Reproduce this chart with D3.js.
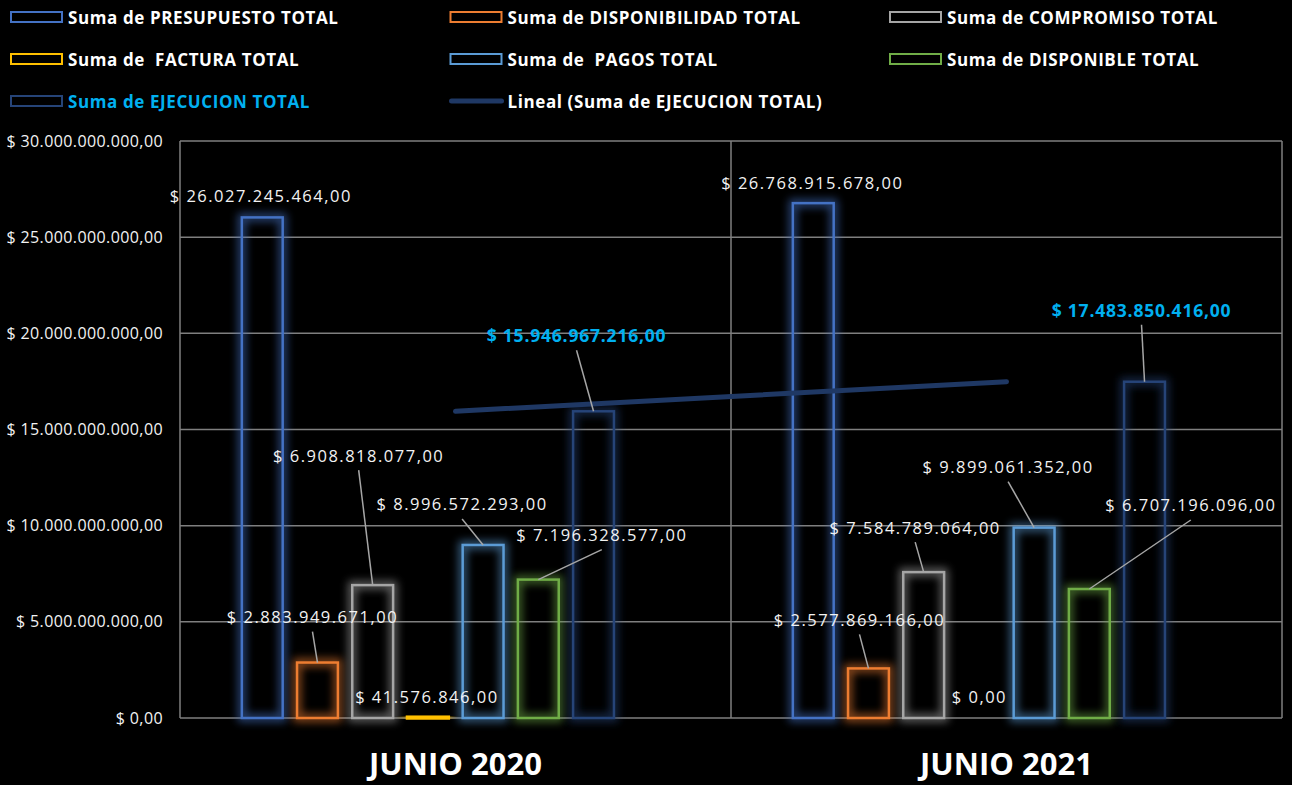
<!DOCTYPE html>
<html>
<head>
<meta charset="utf-8">
<script src="https://cdn.jsdelivr.net/npm/d3@7"></script>
<style>
  html, body { margin: 0; padding: 0; background: #000; }
  svg { display: block; font-family: "Open Sans", sans-serif; }
  text { white-space: pre; }
</style>
</head>
<body>
<div id="chart"></div>
<script>
const categories = ["JUNIO 2020", "JUNIO 2021"]
const seriesNames = [
  "Suma de PRESUPUESTO TOTAL",
  "Suma de DISPONIBILIDAD TOTAL",
  "Suma de COMPROMISO TOTAL",
  "Suma de  FACTURA TOTAL",
  "Suma de  PAGOS TOTAL",
  "Suma de DISPONIBLE TOTAL",
  "Suma de EJECUCION TOTAL",
]
const presupuesto = [26027245464, 26768915678]
const disponibilidad = [2883949671, 2577869166]
const compromiso = [6908818077, 7584789064]
const factura = [41576846, 0]
const pagos = [8996572293, 9899061352]
const disponible = [7196328577, 6707196096]
const ejecucion = [15946967216, 17483850416]
const trendName = "Lineal (Suma de EJECUCION TOTAL)"
const yTicks = [0, 5e9, 10e9, 15e9, 20e9, 25e9, 30e9]

const seriesValues = [presupuesto, disponibilidad, compromiso, factura, pagos, disponible, ejecucion]
const colors = ["#4472C4", "#ED7D31", "#A5A5A5", "#FFC000", "#5B9BD5", "#70AD47", "#264478"]

// manual label placement, as dragged in the original (px from bar top centre)
const labelOffsets = [
  [[-1.5, -22, false], [-1, -21, false]],
  [[-5, -46, true], [-9, -49, true]],
  [[-14, -130, true], [-8.5, -45, true]],
  [[-1, -21, false], [0.5, -22, false]],
  [[-21, -41, true], [-26, -61, true]],
  [[63.5, -45, true], [101.5, -84, true]],
  [[-17, -76, true], [-3, -72, true]],
]

const width = 1292, height = 785
const margin = { top: 141, right: 10, bottom: 67, left: 180 }

const fmt = (v) => {
  const s = d3.format(",.2f")(v) // 1,234.00
  return "$ " + s.replace(/,/g, "#").replace(".", ",").replace(/#/g, ".")
}

const svg = d3.select("#chart").append("svg")
  .attr("width", width)
  .attr("height", height)

svg.append("rect").attr("width", width).attr("height", height).attr("fill", "#000")

const defs = svg.append("defs")
defs.append("filter").attr("id", "glow")
  .attr("x", "-50%").attr("y", "-50%").attr("width", "200%").attr("height", "200%")
  .append("feGaussianBlur").attr("stdDeviation", 4.5)

const x0 = d3.scaleBand()
  .domain(categories)
  .range([margin.left, width - margin.right])

// 8 slots per category: Excel keeps one for the trendline series
const x1 = d3.scaleBand()
  .domain(d3.range(seriesNames.length + 1))
  .range([0, x0.bandwidth()])
  .paddingInner(0.26)
  .paddingOuter(1.12)

const y = d3.scaleLinear()
  .domain([0, 30e9])
  .range([height - margin.bottom, margin.top])

// grid
const grid = svg.append("g")
grid.selectAll("line.h").data(yTicks).join("line")
  .attr("class", "h")
  .attr("x1", margin.left).attr("x2", width - margin.right)
  .attr("y1", d => y(d)).attr("y2", d => y(d))
  .attr("stroke", "#7f7f7f").attr("stroke-width", 1.5)
grid.selectAll("line.v").data([...categories.map(c => x0(c)), width - margin.right]).join("line")
  .attr("class", "v")
  .attr("x1", d => d).attr("x2", d => d)
  .attr("y1", margin.top).attr("y2", y(0))
  .attr("stroke", "#7f7f7f").attr("stroke-width", 1.5)

// y axis labels
const yAxis = d3.axisLeft(y).tickValues(yTicks).tickFormat(fmt).tickSize(0).tickPadding(17)
svg.append("g")
  .attr("transform", `translate(${margin.left},0)`)
  .call(yAxis)
  .call(g => g.select(".domain").remove())
  .selectAll("text")
  .attr("fill", "#f2f2f2")
  .attr("font-size", 16)
  .attr("letter-spacing", 0.4)
  .attr("font-family", "Open Sans, sans-serif")

// bars
const bars = []
seriesValues.forEach((vals, si) => {
  vals.forEach((v, ci) => {
    bars.push({ si, ci, v, cat: categories[ci] })
  })
})

const barG = svg.append("g")
const bx = d => x0(d.cat) + x1(d.si)
barG.selectAll("rect.glow").data(bars).join("rect")
  .attr("class", "glow")
  .attr("x", bx)
  .attr("y", d => y(d.v))
  .attr("width", x1.bandwidth())
  .attr("height", d => y(0) - y(d.v))
  .attr("fill", "none")
  .attr("stroke", d => colors[d.si])
  .attr("stroke-width", 8)
  .attr("opacity", 0.6)
  .attr("filter", "url(#glow)")
barG.selectAll("rect.bar").data(bars).join("rect")
  .attr("class", "bar")
  .attr("x", bx)
  .attr("y", d => y(d.v))
  .attr("width", x1.bandwidth())
  .attr("height", d => y(0) - y(d.v))
  .attr("fill", d => d.si === 3 ? colors[d.si] : "none")
  .attr("stroke", d => colors[d.si])
  .attr("stroke-width", d => d.si === 3 && d.v > 0 ? 3.5 : 2.5)

// trendline
const line = d3.line()
  .x(d => x0(d[0]) + x0.bandwidth() / 2)
  .y(d => y(d[1]))
svg.append("path")
  .attr("d", line(categories.map((c, i) => [c, ejecucion[i]])))
  .attr("stroke", "#1F3864")
  .attr("stroke-width", 5)
  .attr("stroke-linecap", "round")
  .attr("fill", "none")

// data labels
const lbl = bars.map(d => {
  const [dx, dy, leader] = labelOffsets[d.si][d.ci]
  const cx = bx(d) + x1.bandwidth() / 2
  const top = y(d.v)
  return { ...d, cx, top, lx: cx + dx, ly: top + dy, leader }
})
const lg = svg.append("g")
lg.selectAll("line").data(lbl.filter(d => d.leader)).join("line")
  .attr("x1", d => d.lx).attr("y1", d => d.ly + 15)
  .attr("x2", d => d.cx).attr("y2", d => d.top)
  .attr("stroke", "#a6a6a6").attr("stroke-width", 1.5)
lg.selectAll("text").data(lbl).join("text")
  .attr("x", d => d.lx)
  .attr("y", d => d.ly)
  .attr("text-anchor", "middle")
  .attr("dominant-baseline", "central")
  .attr("font-size", d => d.si === 6 ? 17.5 : 16.5)
  .attr("letter-spacing", d => d.si === 6 ? 0.8 : 1.5)
  .attr("font-weight", d => d.si === 6 ? "bold" : "normal")
  .attr("fill", d => d.si === 6 ? "#00B0F0" : "#f2f2f2")
  .text(d => fmt(d.v))

// category labels
svg.append("g").selectAll("text").data(categories).join("text")
  .attr("x", d => x0(d) + x0.bandwidth() / 2)
  .attr("y", 775)
  .attr("text-anchor", "middle")
  .attr("font-size", 31)
  .attr("font-weight", "bold")
  .attr("fill", "#fff")
  .text(d => d)

// legend
const legendItems = seriesNames.map((n, i) => ({ name: n, color: colors[i], type: "box" }))
legendItems.push({ name: trendName, color: "#1F3864", type: "line" })
const leg = svg.append("g").selectAll("g").data(legendItems).join("g")
  .attr("transform", (d, i) => `translate(${10 + (i % 3) * 439.5},${17 + Math.floor(i / 3) * 42})`)
leg.filter(d => d.type === "box").append("rect")
  .attr("x", 1).attr("y", -5).attr("width", 51).attr("height", 10)
  .attr("fill", "none").attr("stroke", d => d.color).attr("stroke-width", 2)
leg.filter(d => d.type === "line").append("line")
  .attr("x1", 2).attr("x2", 52).attr("y1", 0).attr("y2", 0)
  .attr("stroke", d => d.color).attr("stroke-width", 5).attr("stroke-linecap", "round")
leg.append("text")
  .attr("x", 58)
  .attr("y", 0)
  .attr("dominant-baseline", "central")
  .attr("font-size", 17)
  .attr("letter-spacing", 0.6)
  .attr("font-weight", "bold")
  .attr("fill", (d, i) => i === 6 ? "#00B0F0" : "#fff")
  .text(d => d.name)
</script>
</body>
</html>
